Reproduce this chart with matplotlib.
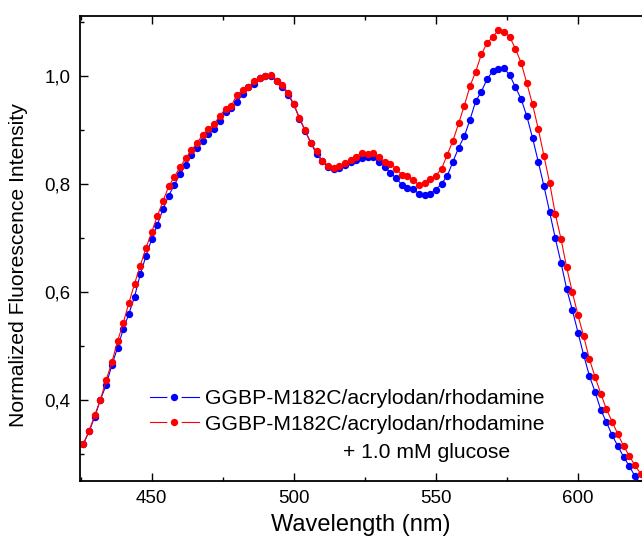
import matplotlib
matplotlib.use("Agg")
import matplotlib.pyplot as plt
from matplotlib.ticker import MultipleLocator, FuncFormatter

plt.rcParams['font.family'] = ['Liberation Sans', 'DejaVu Sans']

# emission spectra, every 2 nm
wavelength = list(range(426, 624, 2))

no_glucose = [
    0.318, 0.341, 0.368, 0.400, 0.427, 0.464, 0.496, 0.530, 0.559, 0.591,
    0.632, 0.666, 0.697, 0.724, 0.753, 0.778, 0.798, 0.818, 0.835, 0.853,
    0.867, 0.880, 0.893, 0.902, 0.917, 0.934, 0.940, 0.951, 0.966, 0.980,
    0.985, 0.997, 0.999, 0.999, 0.990, 0.980, 0.965, 0.947, 0.921, 0.898,
    0.876, 0.855, 0.842, 0.831, 0.827, 0.829, 0.834, 0.840, 0.844, 0.848,
    0.850, 0.849, 0.840, 0.832, 0.820, 0.811, 0.798, 0.793, 0.791, 0.781,
    0.779, 0.782, 0.789, 0.800, 0.815, 0.841, 0.867, 0.888, 0.919, 0.953,
    0.971, 0.994, 1.009, 1.012, 1.014, 1.001, 0.979, 0.957, 0.925, 0.885,
    0.841, 0.796, 0.748, 0.699, 0.654, 0.605, 0.566, 0.524, 0.482, 0.444,
    0.414, 0.381, 0.358, 0.334, 0.314, 0.294, 0.277, 0.258, 0.245,
]

with_glucose = [
    0.318, 0.342, 0.371, 0.400, 0.436, 0.469, 0.508, 0.542, 0.579, 0.615,
    0.648, 0.681, 0.710, 0.740, 0.768, 0.795, 0.813, 0.831, 0.847, 0.862,
    0.876, 0.891, 0.902, 0.911, 0.926, 0.939, 0.944, 0.965, 0.973, 0.979,
    0.990, 0.997, 1.000, 1.002, 0.991, 0.984, 0.968, 0.948, 0.922, 0.899,
    0.875, 0.860, 0.843, 0.833, 0.830, 0.833, 0.838, 0.844, 0.850, 0.858,
    0.856, 0.858, 0.850, 0.841, 0.837, 0.828, 0.817, 0.815, 0.807, 0.798,
    0.802, 0.809, 0.815, 0.828, 0.854, 0.880, 0.912, 0.945, 0.981, 1.008,
    1.040, 1.061, 1.072, 1.085, 1.082, 1.072, 1.050, 1.024, 0.986, 0.947,
    0.902, 0.852, 0.802, 0.744, 0.698, 0.645, 0.599, 0.556, 0.517, 0.475,
    0.442, 0.411, 0.382, 0.359, 0.336, 0.314, 0.296, 0.278, 0.263,
]

label_a = "GGBP-M182C/acrylodan/rhodamine"
label_b = "GGBP-M182C/acrylodan/rhodamine"
label_b_extra = "+ 1.0 mM glucose"

fig = plt.figure(figsize=(6.42, 5.41), dpi=100)
ax = fig.add_axes([0.1246, 0.1118, 0.8754, 0.8586])

ax.plot(wavelength, no_glucose, color='#0000ff', lw=0.8, marker='o', ms=5.3,
        mec='none', label=label_a)
ax.plot(wavelength, with_glucose, color='#ff0000', lw=0.8, marker='o', ms=5.3,
        mec='none', label=label_b)

ax.set_xlim(424.8, 622.5)
ax.set_ylim(0.25, 1.111)

ax.xaxis.set_major_locator(MultipleLocator(50))
ax.xaxis.set_minor_locator(MultipleLocator(25))
ax.yaxis.set_major_locator(MultipleLocator(0.2))
ax.yaxis.set_minor_locator(MultipleLocator(0.1))
ax.yaxis.set_major_formatter(FuncFormatter(lambda v, p: f"{v:.1f}".replace('.', ',')))

ax.tick_params(which='both', direction='in', top=True, right=False,
               labelsize=13.5, width=1.0, pad=7)
ax.tick_params(which='major', length=6)
ax.tick_params(which='minor', length=3)
ax.spines['right'].set_visible(False)
for s in ('left', 'bottom', 'top'):
    ax.spines[s].set_linewidth(1.3)

ax.set_xlabel("Wavelength (nm)", fontsize=17, labelpad=5)
ax.set_ylabel("Normalized Fluorescence Intensity", fontsize=15.2)
ax.yaxis.set_label_coords(-0.0925, 0.464)

leg = ax.legend(loc='upper left', bbox_to_anchor=(0.1246, 0.196), frameon=False,
                fontsize=15.2, handlelength=2.3, handletextpad=0.3,
                labelspacing=0.3, borderpad=0, borderaxespad=0)
# gap in the line round the legend marker
for h in leg.legend_handles:
    h.set_markeredgecolor('white')
    h.set_markeredgewidth(2.5)
    h.set_markersize(7.8)
ax.text(0.468, 0.061, label_b_extra, transform=ax.transAxes, fontsize=15.2,
        va='center', ha='left')

fig.savefig("out.png", dpi=100)
